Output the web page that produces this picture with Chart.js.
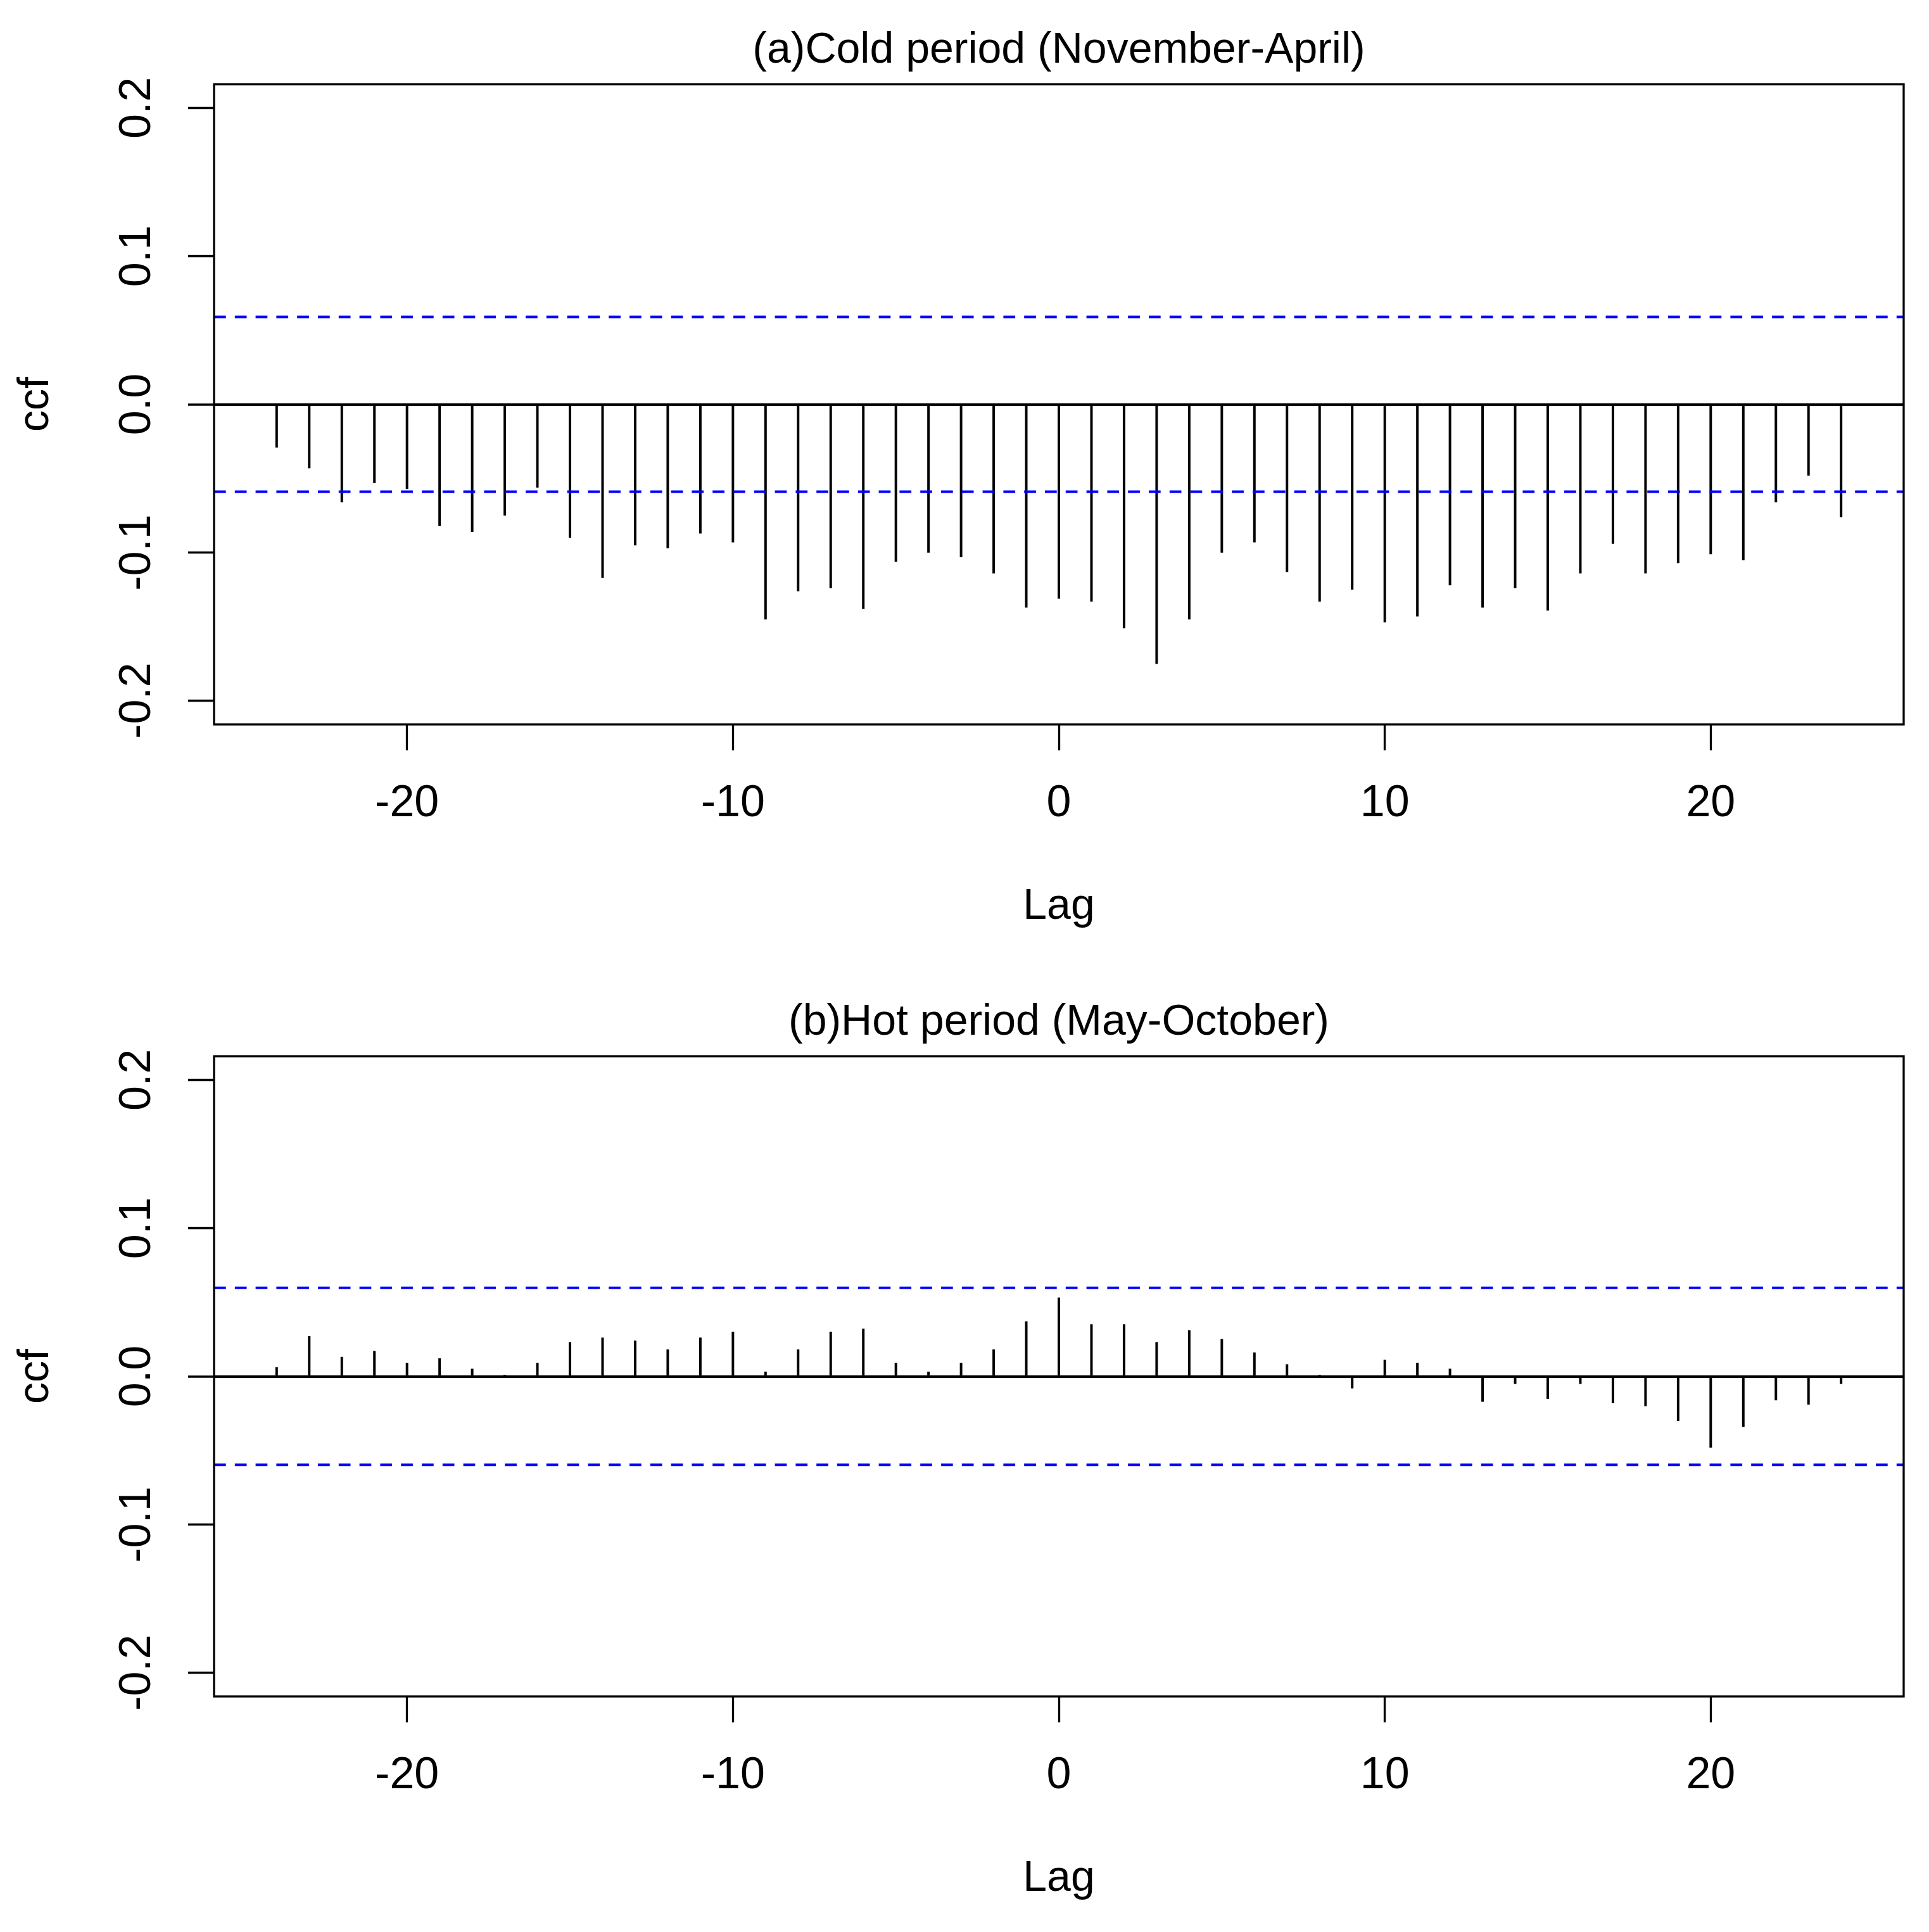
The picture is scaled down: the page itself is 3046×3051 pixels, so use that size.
<!DOCTYPE html>
<html>
<head>
<meta charset="utf-8">
<script src="https://cdn.jsdelivr.net/npm/chart.js@4.4.1/dist/chart.umd.min.js"></script>
<style>
html,body{margin:0;padding:0;background:#fff;overflow:hidden;}
#wrap{position:relative;width:3046px;height:3051px;background:#fff;}
canvas{position:absolute;left:0;}
</style>
</head>
<body>
<div id="wrap">
<canvas id="c1" width="3046" height="1535" style="top:0;width:3046px;height:1535px"></canvas>
<canvas id="c2" width="3046" height="1516" style="top:1535px;width:3046px;height:1516px"></canvas>
</div>
<script>
// ---- data ----
const lags = [-24,-23,-22,-21,-20,-19,-18,-17,-16,-15,-14,-13,-12,-11,-10,-9,-8,-7,-6,-5,-4,-3,-2,-1,0,
              1,2,3,4,5,6,7,8,9,10,11,12,13,14,15,16,17,18,19,20,21,22,23,24];
const coldCcf = [-0.029,-0.043,-0.066,-0.053,-0.057,-0.082,-0.086,-0.075,-0.056,-0.090,-0.117,-0.095,-0.097,
                 -0.087,-0.093,-0.145,-0.126,-0.124,-0.138,-0.106,-0.100,-0.103,-0.114,-0.137,-0.131,
                 -0.133,-0.151,-0.175,-0.145,-0.100,-0.093,-0.113,-0.133,-0.125,-0.147,-0.143,-0.122,
                 -0.137,-0.124,-0.139,-0.114,-0.094,-0.114,-0.107,-0.101,-0.105,-0.066,-0.048,-0.076];
const hotCcf = [0.006,0.027,0.013,0.017,0.009,0.012,0.005,0.0005,0.009,0.023,0.026,0.024,0.018,
                0.026,0.030,0.003,0.018,0.030,0.032,0.009,0.003,0.009,0.018,0.037,0.053,
                0.035,0.035,0.023,0.031,0.025,0.016,0.008,0.0005,-0.008,0.011,0.009,0.005,
                -0.017,-0.005,-0.015,-0.005,-0.018,-0.020,-0.030,-0.048,-0.034,-0.016,-0.019,-0.005];
const coldBound = 0.059;
const hotBound = 0.0597;
const xTicks = [-20,-10,0,10,20];
const xTickLabels = ['-20','-10','0','10','20'];
const yTicks = [-0.2,-0.1,0.0,0.1,0.2];
const yTickLabels = ['-0.2','-0.1','0.0','0.1','0.2'];
const titles = ['(a)Cold period (November-April)','(b)Hot period (May-October)'];
const xLabel = 'Lag';
const yLabel = 'ccf';
const xRange = [-25.92, 25.92];
const yRange = [-0.216, 0.216];

// ---- styling ----
Chart.defaults.font.family = "'Liberation Sans', Arial, Helvetica, sans-serif";
Chart.defaults.color = '#000';

const boxPlugin = {
  id: 'rbox',
  afterDatasetsDraw(chart) {
    const {ctx, chartArea: a} = chart;
    ctx.save();
    ctx.strokeStyle = '#000';
    ctx.lineWidth = 3.3;
    ctx.strokeRect(a.left, a.top, a.right - a.left, a.bottom - a.top);
    ctx.restore();
  }
};

function makeChart(id, values, bound, title, H) {
  const AREA_BOTTOM = 1144;
  const xAxisH = H - AREA_BOTTOM;
  const lagTitleMid = 1432;
  const lagPadBottom = H - lagTitleMid - 68 * 1.2 / 2;
  return new Chart(document.getElementById(id), {
    type: 'bar',
    data: {
      datasets: [
        {
          type: 'line',
          data: [{x: xRange[0], y: bound}, {x: xRange[1], y: bound}],
          borderColor: '#0000FF', borderWidth: 4, borderDash: [18.7, 14.1],
          pointRadius: 0, fill: false, order: 1
        },
        {
          type: 'line',
          data: [{x: xRange[0], y: -bound}, {x: xRange[1], y: -bound}],
          borderColor: '#0000FF', borderWidth: 4, borderDash: [18.7, 14.1],
          pointRadius: 0, fill: false, order: 1
        },
        {
          type: 'bar',
          data: lags.map((l, i) => ({x: l, y: values[i]})),
          backgroundColor: '#000', borderWidth: 0, barThickness: 3.3, order: 2
        }
      ]
    },
    options: {
      responsive: false,
      maintainAspectRatio: false,
      animation: false,
      devicePixelRatio: 1,
      layout: {padding: {left: 0, right: 40, top: 0, bottom: 0}},
      plugins: {
        legend: {display: false},
        tooltip: {enabled: false},
        title: {
          display: true, text: title, fullSize: false,
          font: {size: 68, weight: 'normal'}, color: '#000',
          padding: {top: 39, bottom: 12.4}
        }
      },
      scales: {
        x: {
          type: 'linear', min: xRange[0], max: xRange[1], offset: false,
          afterBuildTicks: s => { s.ticks = xTicks.map(v => ({value: v})); },
          afterFit: s => { s.height = xAxisH; },
          ticks: {
            font: {size: 70}, color: '#000', padding: 43, maxRotation: 0, minRotation: 0,
            callback: (v, i) => xTickLabels[i]
          },
          grid: {
            offset: false, drawOnChartArea: false, drawTicks: true,
            tickLength: 41, tickColor: '#000', tickWidth: 3.3
          },
          border: {display: false},
          title: {
            display: true, text: xLabel, font: {size: 68}, color: '#000',
            padding: {top: 0, bottom: lagPadBottom}
          }
        },
        y: {
          type: 'linear', min: yRange[0], max: yRange[1],
          afterBuildTicks: s => { s.ticks = yTicks.map(v => ({value: v})); },
          afterFit: s => { s.width = 338; },
          ticks: {
            font: {size: 70}, color: '#000', padding: 19,
            minRotation: 90, maxRotation: 90, crossAlign: 'center',
            callback: (v, i) => yTickLabels[i]
          },
          grid: {
            drawOnChartArea: true, drawTicks: true, tickLength: 41,
            tickColor: '#000', tickWidth: 3.3,
            color: c => (c.tick && c.tick.value === 0) ? '#000' : 'rgba(0,0,0,0)',
            lineWidth: c => (c.tick && c.tick.value === 0) ? 4 : 1
          },
          border: {display: false},
          title: {
            display: true, text: yLabel, font: {size: 68}, color: '#000',
            padding: {top: 16, bottom: 0}
          }
        }
      }
    },
    plugins: [boxPlugin]
  });
}

makeChart('c1', coldCcf, coldBound, titles[0], 1535);
makeChart('c2', hotCcf, hotBound, titles[1], 1516);
</script>
</body>
</html>
